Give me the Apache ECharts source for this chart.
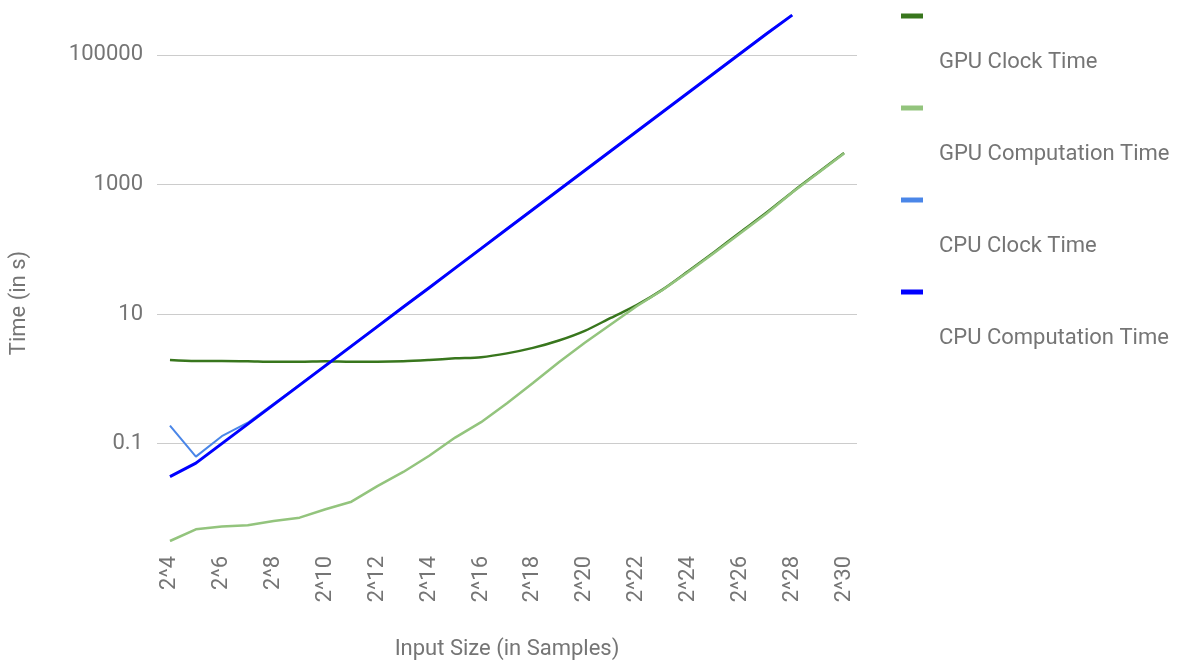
<!DOCTYPE html>
<html lang="en">

<head>
    <meta charset="UTF-8">
    <title>GPU vs CPU time</title>
    <script src="https://cdn.jsdelivr.net/npm/echarts@6/dist/echarts.min.js"></script>
    <style>
        body,
        html {
            padding: 0;
            margin: 0;
            background: #fff;
        }

        #chart-panel {
            height: 668px;
            width: 1186px;
        }
    </style>
</head>

<body>
    <div id="chart-panel"></div>
    <script>
        var sizes = ['2^4', '2^5', '2^6', '2^7', '2^8', '2^9', '2^10', '2^11', '2^12', '2^13', '2^14', '2^15', '2^16',
            '2^17', '2^18', '2^19', '2^20', '2^21', '2^22', '2^23', '2^24', '2^25', '2^26', '2^27', '2^28', '2^29', '2^30'];

        var gpuClock = [1.96, 1.89, 1.89, 1.87, 1.83, 1.83, 1.86, 1.83, 1.83, 1.86, 1.95, 2.07, 2.16,
            2.47, 3.0, 3.9, 5.5, 8.7, 13.7, 23.8, 46, 91, 183, 365, 760, 1530, 3050];
        var gpuCompute = [0.00314, 0.00475, 0.00525, 0.0055, 0.0064, 0.0072, 0.0097, 0.0127, 0.0221, 0.0365, 0.065, 0.124, 0.214,
            0.42, 0.86, 1.8, 3.6, 6.9, 13.2, 23.5, 45, 88, 176, 352, 753, 1500, 3000];
        var cpuClock = [0.19, 0.063, 0.13, 0.21, 0.41, 0.81, 1.62, 3.22, 6.45, 12.9, 25.7, 51.4, 103,
            206, 412, 824, 1650, 3300, 6580, 13150, 26300, 52600, 105500, 211000, 412000, null, null];
        var cpuCompute = [0.031, 0.05, 0.1, 0.2, 0.4, 0.8, 1.6, 3.2, 6.4, 12.8, 25.5, 51, 102,
            205, 410, 820, 1640, 3280, 6550, 13100, 26200, 52400, 105000, 210000, 410000, null, null];

        var gridValues = [0.1, 10, 1000, 100000];

        var names = ['GPU Clock Time', 'GPU Computation Time', 'CPU Clock Time', 'CPU Computation Time'];
        var colors = ['#38761d', '#93c47d', '#4a86e8', '#0000ff'];
        var widths = [2.5, 2.5, 2, 3];
        var values = [gpuClock, gpuCompute, cpuClock, cpuCompute];

        var series = names.map(function (name, i) {
            return {
                name: name,
                type: 'line',
                data: values[i],
                showSymbol: false,
                smooth: i === 0 ? 0.3 : false,
                lineStyle: { color: colors[i], width: widths[i] },
                itemStyle: { color: colors[i] }
            };
        });

        // gridlines only every second decade, like the original
        series[0].markLine = {
            silent: true,
            symbol: 'none',
            z: 1,
            label: { show: false },
            lineStyle: { color: '#cccccc', width: 1, type: 'solid' },
            emphasis: { disabled: true },
            data: gridValues.map(function (v) { return { yAxis: v }; })
        };

        var textColor = '#757575';
        var font = 'Roboto';
        var fontSize = 22;

        var option = {
            backgroundColor: '#fff',
            animation: false,
            color: colors,
            grid: { left: 157, right: 329, top: 15, bottom: 127 },
            legend: {
                orient: 'vertical',
                left: 901,
                top: 7,
                padding: 0,
                itemWidth: 22,
                itemHeight: 5,
                itemGap: 26,
                icon: 'rect',
                data: names,
                // label sits under its swatch
                formatter: function (name) {
                    return '{gap| }\n{t|' + name + '}';
                },
                textStyle: {
                    color: textColor,
                    fontSize: fontSize,
                    fontFamily: font,
                    rich: {
                        gap: { lineHeight: 92, fontSize: 2 },
                        t: {
                            color: textColor,
                            fontSize: fontSize,
                            fontFamily: font,
                            lineHeight: 16,
                            padding: [0, 0, 0, 11]
                        }
                    }
                }
            },
            xAxis: {
                type: 'category',
                data: sizes,
                boundaryGap: true,
                name: 'Input Size (in Samples)',
                nameLocation: 'middle',
                nameGap: 97,
                nameTextStyle: { color: textColor, fontSize: fontSize, fontFamily: font },
                axisLine: { show: false },
                axisTick: { show: false },
                axisLabel: {
                    interval: 1,
                    rotate: 90,
                    margin: 15,
                    color: textColor,
                    fontSize: fontSize,
                    fontFamily: font
                }
            },
            yAxis: {
                type: 'log',
                logBase: 10,
                min: 'dataMin',
                max: 'dataMax',
                name: 'Time (in s)',
                nameLocation: 'middle',
                nameGap: 127,
                nameTextStyle: { color: textColor, fontSize: fontSize, fontFamily: font, padding: [0, 50, 0, 0] },
                axisLine: { show: false },
                axisTick: { show: false },
                splitLine: { show: false },
                axisLabel: {
                    margin: 14,
                    color: textColor,
                    fontSize: fontSize,
                    fontFamily: font,
                    formatter: function (v) {
                        var l = Math.log10(v);
                        var r = Math.round(l);
                        if (Math.abs(l - r) > 1e-6) return '';
                        var p = +Math.pow(10, r).toFixed(1);
                        if (gridValues.indexOf(p) < 0) return '';
                        return String(p);
                    }
                }
            },
            series: series
        };

        var chartVM = echarts.init(document.getElementById('chart-panel'));
        chartVM.setOption(option);
    </script>
</body>

</html>
